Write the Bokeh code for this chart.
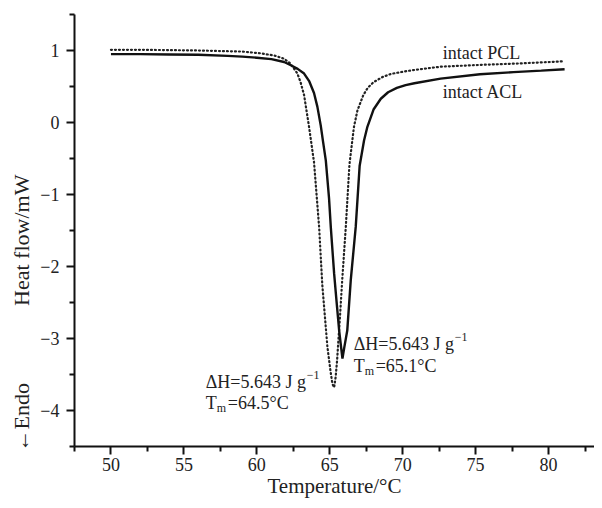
from bokeh.plotting import figure
from bokeh.models import Label, FixedTicker, Range1d
from bokeh.embed import file_html
from bokeh.resources import INLINE

# ---- data ----
acl_temp = [50, 52, 54, 56, 58, 59, 60, 61, 61.87, 62.33, 62.8, 63.24, 63.6, 63.92, 64.15,
            64.38, 64.55, 64.73, 64.95, 65.07, 65.3, 65.45, 65.65, 65.87, 66.0, 66.2, 66.44, 66.78,
            67.05, 67.35, 67.58, 68.0, 68.5, 69.0, 69.6, 70.2, 70.8, 72.6, 75.3, 77.6, 79.5, 81.1]
acl_flow = [0.95, 0.95, 0.945, 0.94, 0.925, 0.915, 0.90, 0.88, 0.84, 0.795, 0.745, 0.68, 0.57, 0.41, 0.22,
            -0.04, -0.28, -0.53, -1.05, -1.45, -2.1, -2.45, -2.9, -3.28, -3.12, -2.89, -2.19, -1.45,
            -0.6, -0.25, -0.06, 0.18, 0.33, 0.42, 0.48, 0.52, 0.545, 0.61, 0.67, 0.70, 0.72, 0.74]

pcl_temp = [50, 52, 54, 56, 58, 59, 60.3, 61.2, 61.87, 62.3, 62.78, 63.0, 63.24, 63.58, 63.92, 64.27,
            64.49, 64.84, 65.05, 65.18, 65.3, 65.4, 65.5, 65.7, 65.85, 66.1, 66.35, 66.66, 66.9,
            67.3, 67.6, 68.0, 68.6, 69.2, 70.0, 70.8, 72.6, 75.3, 78.0, 81.05]
pcl_flow = [1.01, 1.01, 1.005, 1.0, 0.99, 0.985, 0.96, 0.93, 0.885, 0.82, 0.68, 0.56, 0.38, -0.06, -0.55, -1.45,
            -2.26, -3.12, -3.45, -3.63, -3.68, -3.54, -3.31, -2.7, -2.2, -1.45, -0.58, -0.06, 0.17,
            0.38, 0.48, 0.56, 0.63, 0.675, 0.705, 0.73, 0.775, 0.80, 0.82, 0.85]

x_ticks = [50, 55, 60, 65, 70, 75, 80]
x_tick_labels = ["50", "55", "60", "65", "70", "75", "80"]
x_minor = [47.5, 52.5, 57.5, 62.5, 67.5, 72.5, 77.5, 82.5]
y_ticks = [-4, -3, -2, -1, 0, 1]
y_tick_labels = ["\u22124", "\u22123", "\u22122", "\u22121", "0", "1"]
y_minor = [-4.5, -3.5, -2.5, -1.5, -0.5, 0.5, 1.5]

assert len(acl_temp) == len(acl_flow)
assert len(pcl_temp) == len(pcl_flow)

FONT = "Liberation Serif"
NB = "\u00a0"

p = figure(width=594, height=500, output_backend="svg", toolbar_location=None,
           x_range=Range1d(47.5, 83.15), y_range=Range1d(-4.5, 1.5),
           min_border_left=74, min_border_right=0, min_border_top=14, min_border_bottom=54)
p.outline_line_color = None
p.xgrid.visible = False
p.ygrid.visible = False
p.background_fill_color = "white"
p.border_fill_color = "white"

p.line(pcl_temp, pcl_flow, line_color="#222222", line_width=2.2, line_dash="1 3", line_cap="round")
p.line(acl_temp, acl_flow, line_color="#111111", line_width=2.4)

for ax in (p.xaxis[0], p.yaxis[0]):
    ax.axis_line_width = 2
    ax.axis_line_color = "#111111"
    ax.major_tick_line_width = 2
    ax.minor_tick_line_width = 2
    ax.major_tick_line_color = "#111111"
    ax.minor_tick_line_color = "#111111"
    ax.major_tick_in = 0
    ax.major_tick_out = 8
    ax.minor_tick_in = 0
    ax.minor_tick_out = 5
    ax.major_label_text_font = FONT
    ax.major_label_text_font_size = "18px"
    ax.major_label_text_color = "#222222"
    ax.axis_label_text_font = FONT
    ax.axis_label_text_font_style = "normal"
    ax.axis_label_text_color = "#222222"

p.xaxis.axis_label_text_font_size = "21px"
p.yaxis.axis_label_text_font_size = "22px"

p.xaxis.ticker = FixedTicker(ticks=x_ticks, minor_ticks=x_minor)
p.xaxis.major_label_overrides = {float(v): s for v, s in zip(x_ticks, x_tick_labels)}
p.yaxis.ticker = FixedTicker(ticks=y_ticks, minor_ticks=y_minor)
p.yaxis.major_label_overrides = {float(v): s for v, s in zip(y_ticks, y_tick_labels)}
p.xaxis.axis_label = "Temperature/\u00b0C"
# "←Endo" sits low on the same vertical line as the y title
p.yaxis.axis_label = "\u2190Endo" + NB * 14 + "Heat flow/mW" + NB * 30
p.xaxis.major_label_standoff = 3
p.xaxis.axis_label_standoff = 0
p.yaxis.major_label_standoff = 7
p.yaxis.axis_label_standoff = 3


def lab(x, y, text, size="18px", xo=0, yo=0, align="left"):
    p.add_layout(Label(x=x, y=y, text=text, x_offset=xo, y_offset=yo,
                       text_font=FONT, text_font_size=size, text_color="#222222",
                       text_align=align, text_baseline="middle"))


# curve names
lab(72.74, 0.97, "intact PCL")
lab(72.74, 0.42, "intact ACL")

# annotations: ACL peak
lab(66.64, -3.07, "\u0394H=5.643 J g")
lab(66.64, -3.07, "\u22121", size="12px", xo=101, yo=7)
lab(66.64, -3.375, "T")
lab(66.64, -3.375, "m", size="12px", xo=11, yo=-5)
lab(66.64, -3.375, "=65.1\u00b0C", xo=22)

# annotations: PCL peak
lab(56.5, -3.61, "\u0394H=5.643 J g")
lab(56.5, -3.61, "\u22121", size="12px", xo=101, yo=7)
lab(56.5, -3.9, "T")
lab(56.5, -3.9, "m", size="12px", xo=11, yo=-5)
lab(56.5, -3.9, "=64.5\u00b0C", xo=22)

open("out.html", "w").write(file_html(p, INLINE))
